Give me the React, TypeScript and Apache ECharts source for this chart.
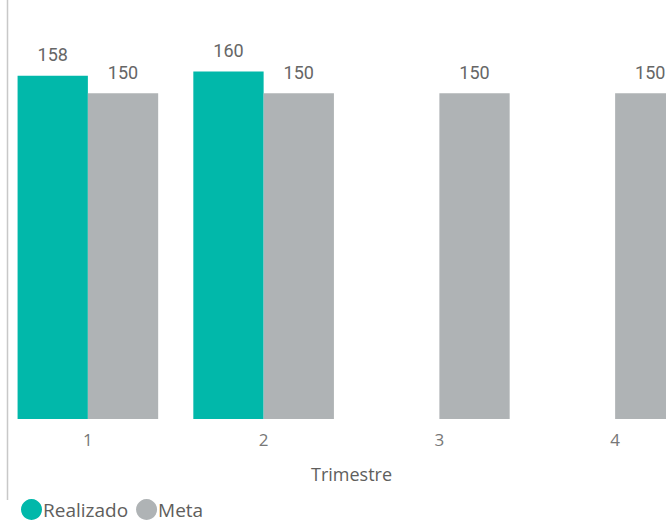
import React, { useEffect, useRef } from "react";
import * as echarts from "echarts";

const categories = ["1", "2", "3", "4"];
const realizado: (number | null)[] = [158, 160, null, null];
const meta: number[] = [150, 150, 150, 150];

export default function App() {
  const ref = useRef<HTMLDivElement>(null);
  useEffect(() => {
    if (!ref.current) return;
    const chart = echarts.init(ref.current, null, { renderer: "svg" });
    chart.setOption({
      animation: false,
      backgroundColor: "#ffffff",
      grid: { left: 0, right: -37, top: 28, bottom: 103, containLabel: false, outerBoundsMode: "none" },
      xAxis: {
        type: "category",
        data: categories,
        name: "Trimestre",
        nameLocation: "middle",
        nameGap: 46,
        nameTextStyle: { fontFamily: "Open Sans", fontSize: 18, color: "#605E5C" },
        axisLine: { show: false },
        axisTick: { show: false },
        axisLabel: { fontFamily: "Open Sans", fontSize: 17, color: "#777777", margin: 12 },
      },
      yAxis: { type: "value", min: 0, max: 180, show: false, splitLine: { show: false } },
      legend: {
        left: 16,
        top: 497,
        padding: [2, 5, 0, 5],
        icon: "circle",
        itemWidth: 21,
        itemHeight: 21,
        itemGap: 8,
        textStyle: { fontFamily: "Open Sans", fontSize: 19, lineHeight: 19, color: "#605E5C", padding: [0, 0, 0, -4] },
        data: ["Realizado", "Meta"],
      },
      graphic: [
        { type: "line", shape: { x1: 7.5, y1: 0, x2: 7.5, y2: 500 }, style: { stroke: "#c8c8c8", lineWidth: 1.5 } },
      ],
      series: [
        {
          name: "Realizado",
          type: "bar",
          data: realizado,
          barGap: "0%",
          barCategoryGap: "20%",
          itemStyle: { color: "#01B8AA" },
          label: { show: true, position: "top", distance: 12, fontFamily: "Roboto", fontSize: 18, color: "#666666" },
        },
        {
          name: "Meta",
          type: "bar",
          data: meta,
          barGap: "0%",
          barCategoryGap: "20%",
          itemStyle: { color: "#AFB3B5" },
          label: { show: true, position: "top", distance: 12, fontFamily: "Roboto", fontSize: 18, color: "#666666" },
        },
      ],
    });
    return () => chart.dispose();
  }, []);
  return <div ref={ref} style={{ position: "fixed", left: 0, top: 0, width: 666, height: 522 }} />;
}
